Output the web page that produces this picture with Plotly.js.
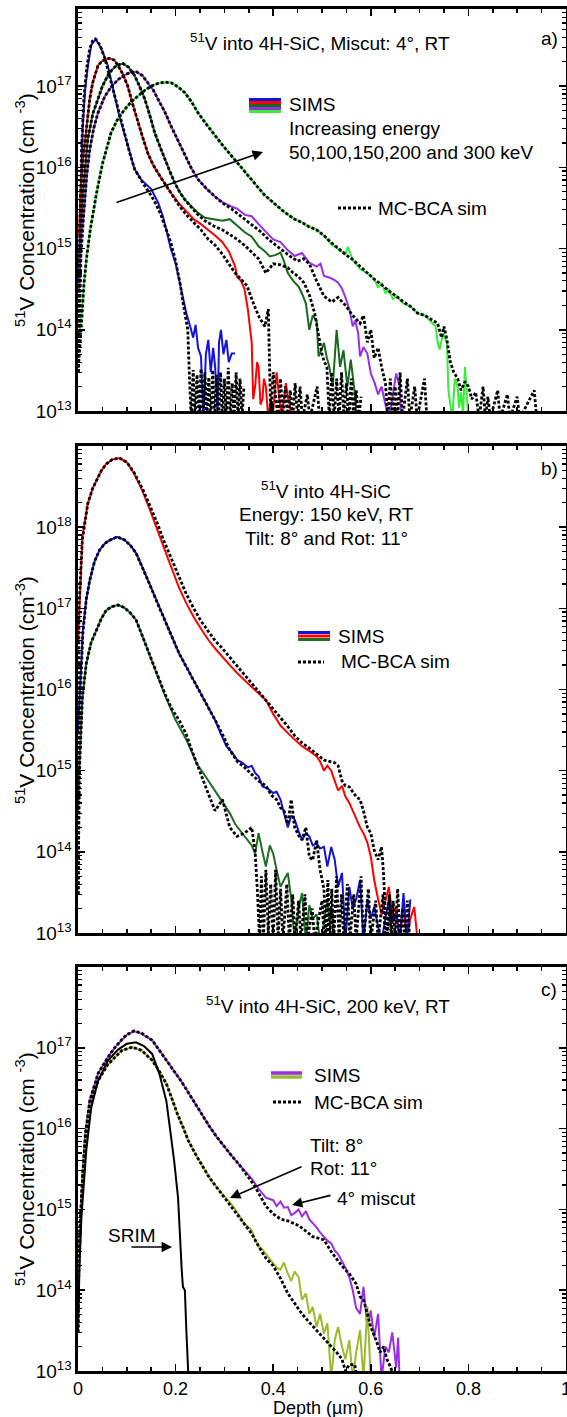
<!DOCTYPE html>
<html><head><meta charset="utf-8">
<script src="https://cdn.plot.ly/plotly-3.0.1.min.js"></script>
<style>html,body{margin:0;padding:0;background:#fff;}#chart{width:567px;height:1417px;}</style>
</head><body><div id="chart"></div>
<script>
// ---------------- DATA (depth in µm, concentration in cm^-3) ----------------
// Panel a) 51V into 4H-SiC, Miscut 4°, RT — SIMS for 50,100,150,200,300 keV + MC-BCA sims
const A_X_50 = [0.002,0.005,0.01,0.015,0.02,0.027,0.036,0.048,0.061,0.075,0.085,0.096,0.106,0.116,0.13,0.15,0.164,0.174,0.181,0.19,0.2,0.21,0.222,0.23,0.236,0.241,0.246,0.252,0.257,0.262,0.267,0.272,0.277,0.281,0.286,0.289,0.293,0.298,0.304,0.309,0.315,0.322];
const A_Y_50 = [4e14,4e15,3.5e16,9.6e16,1.7e17,3.2e17,3.8e17,2.9e17,1.8e17,7.6e16,4.2e16,2.5e16,1.5e16,9.5e15,7e15,5.4e15,3.7e15,2.5e15,1.7e15,1e15,6.6e14,3.5e14,1.6e14,1.1e14,8e13,1.15e14,6e13,4.7e13,8e12,5e13,7.5e13,3e13,6e13,3.5e13,9e12,7e13,1e14,5e13,7.5e13,4e13,5.1e13,5.1e13];
const A_SX_50 = [0,0.003,0.007,0.012,0.018,0.024,0.03,0.036,0.045,0.055,0.065,0.075,0.085,0.096,0.106,0.116,0.13,0.14,0.15,0.16,0.17,0.18,0.19,0.2,0.21,0.215,0.22,0.225,0.228,0.232,0.236,0.24,0.244,0.248,0.252,0.256,0.26,0.264,0.268,0.272,0.276,0.28,0.284,0.288,0.292,0.296,0.3,0.304,0.308,0.312,0.316,0.32,0.324,0.328,0.332,0.336,0.34];
const A_SY_50 = [3e13,6e14,1.5e16,7e16,1.7e17,2.9e17,3.6e17,3.8e17,3.2e17,2.2e17,1.3e17,7.6e16,4.2e16,2.5e16,1.5e16,9.5e15,6.8e15,5.5e15,4.5e15,3.5e15,2.6e15,1.8e15,1.2e15,7e14,3.5e14,2.2e14,1.5e14,1e14,3e13,8e12,3.2e13,8e12,2.8e13,8e12,3.3e13,8e12,3e13,8e12,2.6e13,8e12,3.2e13,8e12,2.8e13,8e12,3e13,8e12,2.5e13,8e12,3.4e13,8e12,2.2e13,8e12,3e13,8e12,2.5e13,8e12,2e13];

const A_X_100 = [0.002,0.006,0.01,0.015,0.02,0.024,0.03,0.041,0.05,0.064,0.074,0.082,0.092,0.102,0.112,0.123,0.133,0.143,0.153,0.164,0.178,0.191,0.207,0.222,0.237,0.252,0.267,0.281,0.296,0.31,0.322,0.326,0.334,0.341,0.348,0.352,0.356,0.359,0.363,0.367,0.37,0.374,0.378,0.381,0.385,0.39,0.395,0.4,0.404,0.407,0.412,0.417,0.422,0.426,0.43,0.434,0.437];
const A_Y_100 = [1.5e15,6e15,1.2e16,2.2e16,4.5e16,6.9e16,1.1e17,1.8e17,2.05e17,2.2e17,2.1e17,1.8e17,1.4e17,1e17,6e16,3.5e16,2.3e16,1.5e16,1.1e16,8.5e15,6.3e15,4.8e15,3.6e15,2.9e15,2.3e15,2e15,1.7e15,1.45e15,1.2e15,9e14,6e14,4.5e14,4e14,3.2e14,1.8e14,1.1e14,6.9e13,1.4e13,2e13,4e13,3.5e13,1.2e13,1.4e13,2.5e13,2e13,8e12,1.4e13,1e13,2e13,3e13,1.5e13,9e12,1.4e13,2.2e13,1.5e13,1.2e13,8e12];
const A_SX_100 = [0,0.005,0.01,0.015,0.024,0.03,0.041,0.05,0.064,0.074,0.082,0.092,0.102,0.112,0.123,0.133,0.143,0.153,0.164,0.178,0.191,0.207,0.222,0.237,0.252,0.267,0.281,0.296,0.31,0.322,0.334,0.346,0.361,0.372,0.383,0.39,0.395,0.4,0.405,0.41,0.415,0.42,0.425,0.43,0.435,0.44,0.445,0.45,0.455,0.46,0.47,0.475,0.49,0.495];
const A_SY_100 = [3e13,4e15,1.2e16,2.2e16,6.9e16,1.1e17,1.8e17,2.05e17,2.2e17,2.1e17,1.8e17,1.4e17,1e17,6e16,3.5e16,2.3e16,1.5e16,1.1e16,8.5e15,6.3e15,4.8e15,3.4e15,2.6e15,2.1e15,1.7e15,1.3e15,1.1e15,8.5e14,6.5e14,5e14,4.2e14,3.5e14,2e14,1.4e14,1.1e14,1.8e14,8e12,3e13,1.5e13,8e12,2.5e13,8e12,2e13,8e12,1.8e13,8e12,2.2e13,8e12,2e13,8e12,1.6e13,8e12,2e13,8e12];

const A_X_150 = [0.002,0.01,0.02,0.03,0.041,0.05,0.061,0.07,0.079,0.092,0.104,0.116,0.126,0.137,0.147,0.157,0.168,0.178,0.188,0.198,0.208,0.219,0.232,0.246,0.26,0.278,0.296,0.311,0.326,0.341,0.356,0.37,0.381,0.393,0.404,0.415,0.422,0.43,0.441,0.452,0.46,0.467,0.474,0.481,0.489,0.493,0.498,0.504,0.51,0.515,0.522,0.53,0.537,0.544,0.552,0.559,0.567,0.571];
const A_Y_150 = [6e14,4.8e15,2.2e16,4.5e16,6.9e16,1e17,1.35e17,1.6e17,1.8e17,1.9e17,1.7e17,1.35e17,1e17,6.9e16,4.4e16,2.7e16,1.8e16,1.25e16,9e15,6.5e15,5e15,4e15,3.3e15,2.75e15,2.4e15,2.3e15,2.2e15,2.3e15,1.9e15,1.6e15,1.4e15,1.07e15,9.5e14,8e14,8.3e14,8.9e14,7e14,5e14,4e14,3.4e14,2.7e14,2.1e14,1e14,1.5e14,1.3e14,4.7e13,5.5e13,6.9e13,4.5e13,3.5e13,2e13,1e14,3.5e13,5.6e13,2e13,4.3e13,1.7e13,8e12];
const A_SX_150 = [0,0.005,0.01,0.02,0.03,0.041,0.05,0.061,0.07,0.079,0.092,0.104,0.116,0.126,0.137,0.147,0.157,0.168,0.178,0.188,0.198,0.208,0.219,0.232,0.246,0.26,0.278,0.296,0.311,0.326,0.341,0.356,0.37,0.385,0.4,0.415,0.43,0.441,0.452,0.463,0.474,0.485,0.496,0.5,0.505,0.51,0.515,0.52,0.525,0.53,0.535,0.54,0.545,0.55,0.555,0.56,0.565,0.57,0.575,0.58];
const A_SY_150 = [3e13,1e15,4.8e15,2.2e16,4.5e16,6.9e16,1e17,1.35e17,1.6e17,1.8e17,1.9e17,1.7e17,1.35e17,1e17,6.9e16,4.4e16,2.7e16,1.8e16,1.25e16,9e15,6.5e15,5e15,4e15,3.2e15,2.6e15,2.2e15,1.9e15,1.7e15,1.5e15,1.3e15,1.1e15,9e14,7.5e14,5e14,6.5e14,6.3e14,5.8e14,5e14,4.5e14,3.8e14,2.7e14,1.6e14,7e13,5e13,4e13,3.5e13,8e12,3e13,8e12,2.5e13,8e12,3e13,8e12,2.2e13,8e12,2.5e13,8e12,1.8e13,8e12,1.5e13];

const A_X_200 = [0.002,0.006,0.012,0.018,0.024,0.032,0.041,0.055,0.068,0.082,0.096,0.108,0.12,0.132,0.143,0.154,0.164,0.178,0.191,0.205,0.219,0.232,0.246,0.263,0.28,0.297,0.314,0.326,0.342,0.356,0.37,0.385,0.4,0.415,0.43,0.444,0.459,0.474,0.489,0.497,0.504,0.515,0.526,0.533,0.541,0.548,0.556,0.563,0.568,0.574,0.578,0.585,0.593,0.6,0.608,0.615,0.622,0.63,0.637,0.644,0.652,0.659,0.663];
const A_Y_200 = [3e14,1.2e15,2.8e15,8e15,1.65e16,3e16,4.7e16,7.5e16,9.8e16,1.2e17,1.38e17,1.48e17,1.5e17,1.35e17,1.1e17,9e16,6.9e16,4.8e16,3.2e16,2.1e16,1.4e16,9.8e15,7.1e15,5.5e15,4.4e15,3.7e15,3.3e15,3.1e15,2.6e15,2.5e15,2e15,1.6e15,1.3e15,1.2e15,9.5e14,8.1e14,8.8e14,6.7e14,6e14,6.5e14,4.6e14,4.4e14,4.1e14,3.8e14,3.2e14,2.5e14,1.8e14,1.1e14,1.3e14,9.2e13,4.7e13,6.1e13,5.1e13,2.9e13,2.2e13,1.6e13,2e13,1.2e13,8e12,1.4e13,2.9e13,2e13,8e12];
const A_SX_200 = [0,0.006,0.012,0.018,0.024,0.032,0.041,0.055,0.068,0.082,0.096,0.108,0.12,0.132,0.143,0.154,0.164,0.178,0.191,0.205,0.219,0.232,0.246,0.263,0.28,0.297,0.314,0.33,0.345,0.36,0.375,0.39,0.405,0.42,0.435,0.45,0.462,0.474,0.489,0.504,0.52,0.533,0.548,0.563,0.578,0.585,0.593,0.6,0.607,0.615,0.622,0.63,0.635,0.64,0.645,0.65,0.655,0.66,0.665,0.675,0.68,0.69,0.695,0.71,0.715];
const A_SY_200 = [3e13,8e14,2.8e15,8e15,1.65e16,3e16,4.7e16,7.5e16,9.8e16,1.2e17,1.38e17,1.48e17,1.5e17,1.35e17,1.1e17,9e16,6.9e16,4.8e16,3.2e16,2.1e16,1.4e16,9.8e15,7.1e15,5.5e15,4.4e15,3.6e15,3.1e15,2.6e15,2.2e15,1.9e15,1.6e15,1.3e15,1.1e15,9.5e14,8e14,7e14,7.5e14,6.5e14,4e14,2.6e14,2.2e14,2.5e14,2e14,1.5e14,1.2e14,1.5e14,7e13,1e14,4.5e13,6e13,3.5e13,2.2e13,8e12,2.5e13,8e12,2e13,8e12,3e13,8e12,2.5e13,8e12,2e13,8e12,2.5e13,8e12];

const A_X_300 = [0.002,0.007,0.012,0.017,0.025,0.038,0.05,0.068,0.082,0.096,0.11,0.123,0.137,0.15,0.164,0.178,0.191,0.205,0.219,0.232,0.246,0.263,0.28,0.297,0.314,0.331,0.348,0.366,0.383,0.4,0.417,0.431,0.444,0.459,0.474,0.489,0.504,0.518,0.533,0.548,0.553,0.563,0.578,0.593,0.607,0.615,0.622,0.63,0.637,0.645,0.652,0.667,0.681,0.696,0.711,0.722,0.733,0.737,0.741,0.748,0.756,0.759,0.763,0.767,0.772,0.778,0.781,0.785,0.789,0.793,0.797,0.8];
const A_Y_300 = [8e13,1.5e14,3.5e14,7.2e14,1.7e15,4.8e15,1.1e16,2.7e16,4e16,5.2e16,6.5e16,7.6e16,8.9e16,1e17,1.08e17,1.12e17,1.1e17,9.8e16,8.3e16,6.5e16,4.7e16,3.4e16,2.5e16,1.85e16,1.4e16,1.05e16,7.9e15,5.8e15,4.5e15,3.7e15,3e15,2.6e15,2.3e15,2.1e15,1.85e15,1.7e15,1.45e15,1.15e15,9.8e14,8.5e14,1.05e15,7.3e14,5.6e14,5e14,4.2e14,3.3e14,3.8e14,2.8e14,3.2e14,2.4e14,2.6e14,2.1e14,1.95e14,1.6e14,1.5e14,1.3e14,1.1e14,7e13,5.7e13,9e13,6.9e13,1.8e13,1.1e13,8e12,2.5e13,2e13,1.1e13,1.7e13,9e12,3.5e13,1.5e13,8e12];
const A_SX_300 = [0,0.004,0.008,0.012,0.017,0.025,0.038,0.05,0.068,0.082,0.096,0.11,0.123,0.137,0.15,0.164,0.178,0.191,0.205,0.219,0.232,0.246,0.263,0.28,0.297,0.314,0.331,0.348,0.366,0.383,0.4,0.417,0.431,0.444,0.459,0.474,0.489,0.504,0.518,0.533,0.548,0.563,0.578,0.593,0.607,0.622,0.637,0.652,0.667,0.681,0.696,0.711,0.726,0.737,0.745,0.75,0.756,0.763,0.77,0.778,0.785,0.793,0.8,0.807,0.815,0.822,0.83,0.835,0.84,0.845,0.86,0.865,0.88,0.885,0.9,0.905,0.935,0.94];
const A_SY_300 = [3e13,6e13,1.4e14,3.5e14,7.2e14,1.7e15,4.8e15,1.1e16,2.7e16,4e16,5.2e16,6.5e16,7.6e16,8.9e16,1e17,1.08e17,1.12e17,1.1e17,9.8e16,8.3e16,6.5e16,4.7e16,3.4e16,2.5e16,1.85e16,1.4e16,1.05e16,7.9e15,5.8e15,4.5e15,3.7e15,3e15,2.6e15,2.3e15,2.1e15,1.85e15,1.7e15,1.45e15,1.2e15,1e15,8.5e14,7.3e14,6e14,5e14,4.2e14,3.6e14,3e14,2.6e14,2.2e14,1.95e14,1.6e14,1.5e14,1.3e14,1.2e14,8e13,1.1e14,7.5e13,4e13,3e13,2.5e13,1.8e13,2.3e13,2e13,1.4e13,1.7e13,8e12,2e13,8e12,1.5e13,8e12,1.8e13,8e12,1.6e13,8e12,1.5e13,8e12,1.8e13,8e12];

// Panel b) 150 keV, Tilt 8°, Rot 11° — three doses (red high, blue mid, green low)
const B_X_RED = [0,0.003,0.009,0.02,0.03,0.038,0.048,0.058,0.07,0.085,0.1,0.115,0.133,0.148,0.163,0.175,0.185,0.196,0.207,0.222,0.237,0.252,0.267,0.281,0.296,0.311,0.326,0.341,0.356,0.37,0.385,0.4,0.415,0.43,0.444,0.459,0.474,0.489,0.496,0.504,0.511,0.519,0.526,0.533,0.541,0.548,0.556,0.563,0.57,0.578,0.585,0.593,0.6,0.607,0.615,0.622,0.63,0.637,0.644,0.652,0.659,0.667,0.674,0.681,0.689,0.696];
const B_Y_RED = [3.7e16,1.15e17,7.6e17,1.95e18,3e18,3.8e18,5e18,6e18,6.8e18,7.1e18,6.3e18,4.6e18,2.7e18,1.6e18,9e17,5.6e17,4e17,2.7e17,1.8e17,1.15e17,7.8e16,5.6e16,4.1e16,3.2e16,2.5e16,2e16,1.6e16,1.3e16,1.07e16,9e15,7.4e15,5e15,3.6e15,2.9e15,2.4e15,2e15,1.75e15,1.5e15,1.3e15,1e15,1.15e15,1e15,7.5e14,5.7e14,6.5e14,4.8e14,4e14,3.2e14,2.6e14,2e14,1.7e14,1.3e14,8.7e13,4.5e13,2.6e13,1.7e13,2.5e13,3.7e13,1.7e13,2.1e13,8e12,2.1e13,8e12,1.5e13,2.1e13,8e12];
const B_SX_RED = [0,0.002,0.009,0.02,0.03,0.038,0.048,0.058,0.07,0.085,0.1,0.115,0.133,0.148,0.163,0.175,0.185,0.196,0.207,0.222,0.237,0.252,0.267,0.281,0.296,0.311,0.326,0.341,0.356,0.37,0.385,0.4,0.415,0.43,0.444,0.459,0.474,0.489,0.504,0.515,0.526,0.533,0.541,0.548,0.556,0.563,0.57,0.578,0.585,0.593,0.6,0.607,0.615,0.622,0.626,0.63,0.634,0.638,0.642,0.646,0.65,0.655,0.66,0.665,0.67,0.675,0.68];
const B_SY_RED = [3e13,1e17,7e17,1.95e18,3e18,3.8e18,5e18,6e18,6.8e18,7.1e18,6.3e18,4.7e18,2.9e18,1.8e18,1.1e18,7e17,5e17,3.5e17,2.4e17,1.5e17,1e17,7e16,5.2e16,4e16,3.2e16,2.5e16,2e16,1.55e16,1.2e16,9.5e15,7.5e15,5.8e15,4.5e15,3.5e15,2.7e15,2.2e15,1.9e15,1.6e15,1.35e15,1.3e15,1.25e15,1.15e15,7.5e14,6.5e14,6.3e14,5.5e14,4.8e14,4.4e14,3.2e14,2e14,1.7e14,1.05e14,8e13,1.15e14,5.5e13,1.7e13,8e12,3e13,8e12,2.5e13,8e12,3.5e13,8e12,2e13,8e12,2.5e13,8e12];

const B_X_BLUE = [0,0.003,0.01,0.017,0.024,0.034,0.044,0.055,0.065,0.08,0.095,0.107,0.119,0.133,0.148,0.163,0.178,0.192,0.207,0.222,0.237,0.252,0.267,0.281,0.292,0.304,0.315,0.326,0.337,0.348,0.356,0.363,0.37,0.378,0.389,0.4,0.407,0.415,0.422,0.43,0.437,0.444,0.452,0.459,0.467,0.474,0.481,0.489,0.496,0.504,0.511,0.519,0.526,0.533,0.541,0.548,0.556,0.563,0.57,0.578,0.585,0.593,0.6,0.607,0.615,0.622,0.63,0.637,0.644,0.652,0.659,0.667,0.674,0.681];
const B_Y_BLUE = [3e15,8e15,5.4e16,1.3e17,2.2e17,3.8e17,5.2e17,6.3e17,6.9e17,7.6e17,7e17,6e17,4.8e17,3.1e17,1.9e17,1.15e17,7.2e16,4.5e16,2.8e16,1.9e16,1.3e16,9e15,6.2e15,4.2e15,2.9e15,2e15,1.7e15,1.36e15,1.25e15,1.1e15,1.15e15,9.4e14,8.5e14,6.4e14,6e14,5.3e14,5.5e14,4.4e14,3e14,2e14,2.8e14,2.5e14,1.8e14,1.4e14,1.7e14,1.55e14,1.2e14,1.27e14,1.1e14,1.15e14,6.6e13,1.15e14,8e13,3.7e13,5.5e13,8e12,3.7e13,2e13,2.6e13,4.5e13,8e12,2.6e13,1.5e13,2.1e13,1.2e13,8e12,1.5e13,2.6e13,1.4e13,1.7e13,8e12,3.1e13,8e12,2.6e13];
const B_SX_BLUE = [0,0.003,0.01,0.017,0.024,0.034,0.044,0.055,0.065,0.08,0.095,0.107,0.119,0.133,0.148,0.163,0.178,0.192,0.207,0.222,0.237,0.252,0.267,0.281,0.296,0.311,0.326,0.341,0.356,0.37,0.385,0.396,0.407,0.415,0.422,0.43,0.437,0.444,0.452,0.459,0.467,0.474,0.481,0.489,0.496,0.504,0.508,0.512,0.516,0.52,0.524,0.53,0.535,0.54,0.545,0.552,0.557,0.565,0.57,0.58,0.585,0.595,0.6,0.61,0.615,0.625,0.63,0.64,0.645];
const B_SY_BLUE = [3e13,5e15,5e16,1.3e17,2.2e17,3.8e17,5.2e17,6.3e17,6.9e17,7.6e17,7e17,6e17,4.8e17,3.1e17,1.9e17,1.15e17,7.2e16,4.5e16,2.8e16,1.9e16,1.3e16,9e15,6.2e15,4.2e15,2.8e15,1.8e15,1.3e15,1.1e15,9e14,7.5e14,6.5e14,5e14,4.4e14,3.5e14,3.2e14,2.2e14,4.4e14,2e14,1.6e14,1.4e14,2e14,8.7e13,7.9e13,1.4e14,6e13,3.5e13,8e12,4.5e13,8e12,3.5e13,8e12,5e13,8e12,3e13,8e12,4e13,8e12,3e13,8e12,5e13,8e12,3.5e13,8e12,2.5e13,8e12,3e13,8e12,2e13,8e12];

const B_X_GREEN = [0,0.003,0.009,0.017,0.027,0.038,0.048,0.058,0.07,0.082,0.095,0.107,0.119,0.133,0.148,0.163,0.178,0.189,0.2,0.211,0.222,0.233,0.244,0.256,0.267,0.278,0.289,0.3,0.311,0.322,0.333,0.341,0.348,0.356,0.363,0.37,0.378,0.385,0.393,0.4,0.407,0.415,0.422,0.43,0.437,0.444,0.452,0.459,0.467,0.474,0.481,0.489,0.496,0.504,0.511,0.519];
const B_Y_GREEN = [3e14,1.2e15,8e15,2.1e16,3.8e16,5.4e16,7.5e16,9.5e16,1.05e17,1.1e17,1.02e17,8.8e16,7.2e16,4.4e16,2.5e16,1.5e16,8.5e15,6e15,4.2e15,3.2e15,2.4e15,1.7e15,1.2e15,9.5e14,7.6e14,6e14,4.8e14,3.8e14,3e14,2.2e14,1.8e14,1.6e14,1.4e14,1.2e14,9.5e13,1.7e14,1e14,6.6e13,1.2e14,9.5e13,6e13,3.7e13,4.5e13,5.5e13,2.6e13,8e12,2e13,3.1e13,8e12,2.2e13,1.5e13,1.7e13,8e12,1.3e13,2.6e13,8e12];
const B_SX_GREEN = [0,0.003,0.009,0.017,0.027,0.038,0.048,0.058,0.07,0.082,0.095,0.107,0.119,0.133,0.148,0.163,0.178,0.192,0.207,0.222,0.23,0.241,0.252,0.267,0.281,0.296,0.311,0.326,0.341,0.356,0.363,0.368,0.372,0.376,0.38,0.385,0.39,0.395,0.4,0.405,0.41,0.415,0.42,0.428,0.433,0.44,0.445,0.452,0.457,0.465,0.47,0.48,0.485,0.5,0.505,0.52,0.525];
const B_SY_GREEN = [3e13,1e15,8e15,2.1e16,3.8e16,5.4e16,7.5e16,9.5e16,1.05e17,1.1e17,1.02e17,8.8e16,7.2e16,4.4e16,2.5e16,1.5e16,8.9e15,5.8e15,4.2e15,2.8e15,2e15,1.3e15,9e14,5.2e14,3.2e14,4.4e14,2e14,1.55e14,1.7e14,2e14,1e14,3e13,8e12,5e13,8e12,6e13,1e13,4e13,8e12,6e13,8e12,3.5e13,8e12,4e13,8e12,3e13,8e12,2.5e13,8e12,3e13,8e12,2e13,8e12,2.5e13,8e12,2e13,8e12];

// Panel c) 200 keV, RT — 4° miscut (purple), Tilt 8°/Rot 11° (olive), sims, SRIM
const C_X_MISCUT = [0.002,0.005,0.007,0.01,0.015,0.024,0.041,0.061,0.075,0.089,0.1,0.115,0.13,0.152,0.166,0.181,0.196,0.211,0.226,0.241,0.256,0.27,0.285,0.3,0.315,0.33,0.344,0.356,0.37,0.385,0.4,0.407,0.415,0.422,0.43,0.437,0.444,0.452,0.459,0.467,0.474,0.481,0.489,0.496,0.504,0.511,0.519,0.526,0.533,0.541,0.548,0.556,0.563,0.57,0.578,0.585,0.593,0.6,0.607,0.615,0.622,0.63,0.637,0.644,0.652,0.656,0.659];
const C_Y_MISCUT = [3e14,8e14,1.3e15,3.3e15,8.5e15,2.2e16,4.8e16,7.6e16,1e17,1.25e17,1.45e17,1.6e17,1.5e17,1.24e17,9.5e16,7e16,5.3e16,3.9e16,2.8e16,2e16,1.45e16,1.05e16,7.8e15,5.9e15,4.6e15,3.6e15,2.9e15,2.4e15,1.8e15,1.4e15,1.3e15,1.1e15,1.25e15,1.05e15,1.07e15,8.5e14,9e14,1e15,8.2e14,9.5e14,7.5e14,6.8e14,6e14,5.2e14,4.6e14,4.1e14,3.8e14,3.1e14,2.8e14,2.3e14,1.9e14,1.45e14,1e14,6e13,5.1e13,1.1e14,3.5e13,5.6e13,2.6e13,5.1e13,8e12,2e13,1.7e13,3e13,1.1e13,2.6e13,8e12];
const C_SX_MISCUT = [0,0.002,0.005,0.007,0.01,0.015,0.024,0.041,0.061,0.075,0.089,0.1,0.115,0.13,0.152,0.166,0.181,0.196,0.211,0.226,0.241,0.256,0.27,0.285,0.3,0.315,0.33,0.344,0.356,0.37,0.385,0.4,0.415,0.43,0.452,0.467,0.481,0.504,0.519,0.533,0.544,0.556,0.57,0.578,0.585,0.593,0.6,0.611,0.619,0.626,0.633,0.641,0.648];
const C_SY_MISCUT = [3e13,3e14,8e14,1.3e15,3.3e15,8.5e15,2.2e16,4.8e16,7.6e16,1e17,1.25e17,1.45e17,1.62e17,1.52e17,1.24e17,9.5e16,7e16,5.3e16,3.9e16,2.8e16,2e16,1.45e16,1.05e16,7.8e15,5.9e15,4.6e15,3.6e15,2.8e15,2.2e15,1.6e15,1.1e15,8.8e14,7.6e14,7.2e14,6.3e14,5.4e14,4.6e14,4.2e14,3e14,2.3e14,1.9e14,1.6e14,1.2e14,8.3e13,7.6e13,5.1e13,3.5e13,2.4e13,1.7e13,2e13,1.4e13,1.1e13,8e12];

const C_X_TILT = [0.002,0.007,0.01,0.015,0.024,0.041,0.061,0.089,0.111,0.13,0.152,0.166,0.181,0.193,0.204,0.215,0.226,0.241,0.256,0.267,0.278,0.288,0.296,0.307,0.319,0.33,0.341,0.348,0.356,0.363,0.37,0.378,0.385,0.393,0.4,0.407,0.415,0.422,0.43,0.437,0.444,0.452,0.459,0.467,0.474,0.481,0.489,0.496,0.504,0.511,0.519,0.526,0.533,0.541,0.548,0.556,0.563,0.57,0.578,0.585,0.593,0.6];
const C_Y_TILT = [3e14,1.3e15,3e15,7e15,1.8e16,3.9e16,6.2e16,9.2e16,1.02e17,9.3e16,7e16,5.2e16,3.6e16,2.3e16,1.5e16,1.05e16,7.1e15,4.8e15,3.3e15,2.6e15,2.1e15,1.8e15,1.55e15,1.3e15,1.07e15,8.5e14,6.6e14,6.2e14,5.5e14,4.2e14,3.5e14,3.2e14,2.8e14,2.4e14,2.1e14,1.9e14,1.8e14,2.2e14,1.6e14,1.3e14,1.7e14,1.45e14,7.6e13,9.1e13,5.1e13,6.2e13,3.5e13,5.1e13,2.9e13,3.9e13,8e12,2.4e13,3.5e13,2e13,1.4e13,2.4e13,8e12,1.7e13,3.2e13,8e12,6.3e13,8e12];
const C_SX_TILT = [0,0.002,0.007,0.01,0.015,0.024,0.041,0.061,0.089,0.111,0.13,0.152,0.166,0.181,0.193,0.204,0.215,0.226,0.241,0.256,0.267,0.278,0.296,0.319,0.341,0.356,0.37,0.385,0.4,0.415,0.43,0.444,0.459,0.474,0.489,0.504,0.519,0.53,0.541,0.548,0.556,0.567,0.572];
const C_SY_TILT = [3e13,3e14,1.3e15,3e15,7e15,1.8e16,3.9e16,6.2e16,9.2e16,1.02e17,9.3e16,7e16,5.2e16,3.6e16,2.3e16,1.5e16,1.05e16,7.1e15,4.8e15,3.3e15,2.6e15,2.1e15,1.5e15,1e15,6.5e14,5e14,3.5e14,2.5e14,2e14,1.4e14,9.1e13,7e13,5.1e13,4e13,3.2e13,2.5e13,2e13,1.7e13,1.4e13,1e13,1.2e13,1.2e13,8e12];

const C_X_SRIM = [0,0.003,0.007,0.012,0.017,0.027,0.041,0.061,0.082,0.1,0.119,0.135,0.152,0.167,0.181,0.189,0.197,0.205,0.209,0.2125,0.215,0.219,0.222,0.226,0.228];
const C_Y_SRIM = [3.2e13,1.9e14,8e14,2e15,5.4e15,1.8e16,3.9e16,6.9e16,9.5e16,1.12e17,1.17e17,1.05e17,8.4e16,4.7e16,2.2e16,9.5e15,4e15,1.4e15,3.8e14,1.8e14,1.1e14,1e14,3.2e13,1e13,5e12];

// Axis ticks
const X_TICKS = [0,0.2,0.4,0.6,0.8,1];
const X_TICK_TEXT = ['0','0.2','0.4','0.6','0.8','1'];
const Y_RANGE_A = [13,17.95], Y_RANGE_B = [13,19], Y_RANGE_C = [13,18];

// Colours
const COL = {blue:'#1414d8', red:'#ff0000', dgreen:'#17691c', purple:'#9a2ee6', lgreen:'#38ee38',
             bgreen:'#1d6e22', cpurple:'#9b2fe0', olive:'#9abb2c'};

// ---------------- LAYOUT HELPERS ----------------
const W = 567, H = 1417, ML = 78, MR = 1, MT = 9, MB = 46;
const PW = W - ML - MR, PH = H - MT - MB;
const px = x => (x - ML) / PW;
const py = y => (H - MB - y) / PH;
const FONT = 'Liberation Sans, Arial, Helvetica, sans-serif';

// labelled decades (the top edge of a panel is left unlabelled, as in the figure)
function decades(r){ const v=[],t=[]; for(let e=Math.ceil(r[0]);e<r[1]-0.01;e++){v.push(Math.pow(10,e));t.push('10<sup>'+e+'</sup>');} return {v,t}; }
function minors(r){ const v=[]; for(let e=Math.floor(r[0]);e<Math.ceil(r[1]);e++){ for(let m=2;m<=9;m++){ const val=m*Math.pow(10,e); if(Math.log10(val)<=r[1]) v.push(val);} } return v; }
const X_MINOR = []; for(let i=1;i<20;i++){ if(i%4!==0) X_MINOR.push(i*0.05); }

const lineStyle = {showline:true, linewidth:2.6, linecolor:'#000', mirror:'allticks', ticks:'inside',
  tickcolor:'#000', tickwidth:1.5, ticklen:7, showgrid:false, zeroline:false, ticklabeloverflow:'allow',
  tickfont:{size:19, family:FONT, color:'#000'}};

function xAxis(anchor, labels){
  return Object.assign({}, lineStyle, {anchor, range:[0,1], domain:[0,1], tickmode:'array', tickvals:X_TICKS, ticktext:X_TICK_TEXT,
    showticklabels:labels, tickfont:{size:18, family:FONT, color:'#000'},
    minor:{ticks:'inside', ticklen:4, tickwidth:1.5, tickcolor:'#000', tickmode:'array', tickvals:X_MINOR, showgrid:false}});
}
function yAxis(anchor, range, domain){
  const d = decades(range);
  return Object.assign({}, lineStyle, {anchor, type:'log', range, domain, tickmode:'array', tickvals:d.v, ticktext:d.t,
    minor:{ticks:'inside', ticklen:4, tickwidth:1.2, tickcolor:'#000', tickmode:'array', tickvals:minors(range), showgrid:false}});
}

function meas(x,y,color,xa,ya){ return {type:'scatter', mode:'lines', x, y, xaxis:xa, yaxis:ya, line:{color, width:2}, hoverinfo:'skip'}; }
function sim(x,y,xa,ya){ return {type:'scatter', mode:'lines', x, y, xaxis:xa, yaxis:ya, line:{color:'#000', width:2.8, dash:'3px,2px'}, hoverinfo:'skip'}; }

const data = [
  meas(A_X_50, A_Y_50, COL.blue, 'x','y'),
  meas(A_X_100, A_Y_100, COL.red, 'x','y'),
  meas(A_X_150, A_Y_150, COL.dgreen, 'x','y'),
  meas(A_X_200, A_Y_200, COL.purple, 'x','y'),
  meas(A_X_300, A_Y_300, COL.lgreen, 'x','y'),
  sim(A_SX_50, A_SY_50, 'x','y'),
  sim(A_SX_100, A_SY_100, 'x','y'),
  sim(A_SX_150, A_SY_150, 'x','y'),
  sim(A_SX_200, A_SY_200, 'x','y'),
  sim(A_SX_300, A_SY_300, 'x','y'),

  meas(B_X_RED, B_Y_RED, COL.red, 'x2','y2'),
  meas(B_X_BLUE, B_Y_BLUE, COL.blue, 'x2','y2'),
  meas(B_X_GREEN, B_Y_GREEN, COL.bgreen, 'x2','y2'),
  sim(B_SX_RED, B_SY_RED, 'x2','y2'),
  sim(B_SX_BLUE, B_SY_BLUE, 'x2','y2'),
  sim(B_SX_GREEN, B_SY_GREEN, 'x2','y2'),

  meas(C_X_MISCUT, C_Y_MISCUT, COL.cpurple, 'x3','y3'),
  meas(C_X_TILT, C_Y_TILT, COL.olive, 'x3','y3'),
  {type:'scatter', mode:'lines', x:C_X_SRIM, y:C_Y_SRIM, xaxis:'x3', yaxis:'y3', line:{color:'#000', width:2}, hoverinfo:'skip'},
  sim(C_SX_MISCUT, C_SY_MISCUT, 'x3','y3'),
  sim(C_SX_TILT, C_SY_TILT, 'x3','y3')
];

function txt(text, x, y, anchor, extra){ return Object.assign({text, x:px(x), y:py(y), xref:'paper', yref:'paper', xanchor:anchor||'center', yanchor:'middle', showarrow:false, font:{family:FONT, size:19, color:'#000'}}, extra||{}); }
function arrow(hx, hy, tx, ty){ return {text:'', x:px(hx), y:py(hy), xref:'paper', yref:'paper', ax:tx-hx, ay:ty-hy, showarrow:true, arrowhead:2, arrowsize:1.3, arrowwidth:1.6, arrowcolor:'#000', standoff:0}; }
function ytitle(text, yc){ return Object.assign(txt(text, 25, yc, 'center'), {textangle:-90, font:{family:FONT, size:21, color:'#000'}}); }

const annotations = [
  // panel a
  txt('<sup>51</sup>V into 4H-SiC, Miscut: 4°, RT', 320, 42),
  txt('a)', 549, 38),
  txt('SIMS', 287, 105, 'left'),
  txt('Increasing energy', 287, 128, 'left'),
  txt('50,100,150,200 and 300 keV', 287, 152, 'left'),
  arrow(263, 152, 115, 203),
  txt('MC-BCA sim', 376, 208, 'left'),
  ytitle('<sup>51</sup>V Concentration (cm <sup>-3</sup>)', 210),
  // panel b
  txt('<sup>51</sup>V into 4H-SiC', 326, 490),
  txt('Energy: 150 keV, RT', 326, 514),
  txt('Tilt: 8° and Rot: 11°', 326, 538),
  txt('b)', 549, 469),
  txt('SIMS', 336, 636, 'left'),
  txt('MC-BCA sim', 339, 662, 'left'),
  ytitle('<sup>51</sup>V Concentration (cm<sup>-3</sup>)', 690),
  // panel c
  txt('<sup>51</sup>V into 4H-SiC, 200 keV, RT', 328, 1005),
  txt('c)', 549, 990),
  txt('SIMS', 312, 1075, 'left'),
  txt('MC-BCA sim', 312, 1102, 'left'),
  txt('Tilt: 8°', 308, 1145, 'left'),
  txt('Rot: 11°', 308, 1168, 'left'),
  arrow(230, 1198, 303, 1166),
  txt('4° miscut', 335, 1198, 'left'),
  arrow(292, 1205, 332, 1195),
  txt('SRIM', 106, 1235, 'left'),
  arrow(172, 1247, 130, 1247),
  ytitle('<sup>51</sup>V Concentration (cm <sup>-3</sup>)', 1169),
  // x title
  txt('Depth (µm)', 318, 1408, 'center', {font:{family:FONT, size:18, color:'#000'}})
];

function swatch(x0, x1, y, color, width, dash){ return {type:'line', xref:'paper', yref:'paper', x0:px(x0), x1:px(x1), y0:py(y), y1:py(y), line:{color, width, dash:dash||'solid'}}; }
const shapes = [
  swatch(249,281,99.5,COL.blue,3), swatch(249,281,102.5,COL.red,3), swatch(249,281,105.5,COL.dgreen,3),
  swatch(249,281,108.5,COL.purple,3), swatch(249,281,111.5,COL.lgreen,3),
  swatch(338,371,208,'#000',3,'3px,2px'),
  swatch(298,330,632.5,COL.blue,3), swatch(298,330,636,COL.red,3), swatch(298,330,639.5,COL.bgreen,3),
  swatch(298,324,662,'#000',3,'3px,2px'),
  swatch(271,302,1073,COL.cpurple,3.5), swatch(271,302,1077,COL.olive,3.5),
  swatch(273,302,1102,'#000',3,'3px,2px')
];

const layout = {
  width:W, height:H, margin:{l:ML, r:MR, t:MT, b:MB, pad:0},
  paper_bgcolor:'#fff', plot_bgcolor:'#fff', showlegend:false,
  font:{family:FONT, size:19, color:'#000'},
  xaxis: xAxis('y', false),
  yaxis: yAxis('x', Y_RANGE_A, [py(411), py(9)]),
  xaxis2: xAxis('y2', false),
  yaxis2: yAxis('x2', Y_RANGE_B, [py(933), py(446)]),
  xaxis3: xAxis('y3', true),
  yaxis3: yAxis('x3', Y_RANGE_C, [py(1371), py(967)]),
  annotations, shapes
};

Plotly.newPlot('chart', data, layout, {staticPlot:true, displayModeBar:false});
</script></body></html>
